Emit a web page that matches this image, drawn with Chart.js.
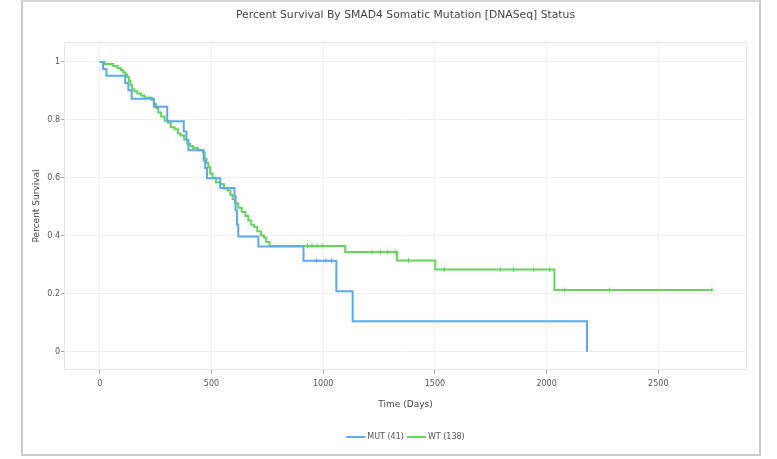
<!DOCTYPE html>
<html>
<head>
<meta charset="utf-8">
<script src="https://cdn.jsdelivr.net/npm/chart.js@4.4.1/dist/chart.umd.min.js"></script>
<style>
  html, body { margin: 0; padding: 0; background: #fff; }
  #card { position: absolute; left: 21px; top: 0px; width: 740px; height: 456px; border: 2px solid #c9c9c9; border-top-color:#d6d6d6; box-sizing: border-box; }
  #c { position: absolute; left: 0; top: 0; }
</style>
</head>
<body>
<div id="card"></div>
<canvas id="c" width="777" height="459"></canvas>
<script>
const chartTitle = "Percent Survival By SMAD4 Somatic Mutation [DNASeq] Status";
const xTitle = "Time (Days)";
const yTitle = "Percent Survival";
const seriesLabels = ["MUT (41)", "WT (138)"];
const seriesColors = ["#5ca9ee", "#66d35c"];

const mutDays = [0, 15, 30, 114, 128, 143, 243, 302, 376, 388, 397, 465, 472, 480, 539, 603, 608, 614, 620, 710, 912, 1059, 1132, 2181];
const mutSurv = [1, 0.976, 0.952, 0.927, 0.902, 0.873, 0.845, 0.795, 0.76, 0.731, 0.695, 0.66, 0.634, 0.599, 0.565, 0.537, 0.488, 0.439, 0.398, 0.363, 0.314, 0.209, 0.105, 0];
const mutCensorDays = [970, 1012, 1037];
const mutCensorSurv = [0.314, 0.314, 0.314];

const wtDays = [0, 22, 60, 80, 95, 105, 115, 122, 130, 138, 145, 155, 168, 185, 200, 232, 242, 252, 262, 275, 290, 305, 318, 335, 350, 362, 378, 392, 405, 418, 440, 462, 470, 478, 486, 494, 505, 520, 540, 556, 572, 585, 595, 605, 620, 636, 652, 665, 678, 690, 705, 722, 735, 745, 760, 1099, 1330, 1502, 2035, 2740];
const wtSurv = [1.000, 0.993, 0.986, 0.978, 0.971, 0.964, 0.957, 0.949, 0.935, 0.920, 0.906, 0.899, 0.891, 0.884, 0.877, 0.870, 0.855, 0.841, 0.826, 0.812, 0.797, 0.790, 0.775, 0.768, 0.753, 0.746, 0.732, 0.717, 0.710, 0.703, 0.695, 0.688, 0.666, 0.651, 0.637, 0.615, 0.600, 0.585, 0.578, 0.563, 0.556, 0.541, 0.527, 0.512, 0.497, 0.482, 0.468, 0.453, 0.438, 0.431, 0.416, 0.401, 0.394, 0.379, 0.365, 0.344, 0.315, 0.284, 0.213, 0.213];
const wtCensorDays = [930, 950, 972, 995, 1218, 1256, 1288, 1323, 1382, 1542, 1793, 1852, 1942, 2013, 2081, 2281, 2740];
const wtCensorSurv = [0.365, 0.365, 0.365, 0.365, 0.344, 0.344, 0.344, 0.344, 0.315, 0.284, 0.284, 0.284, 0.284, 0.284, 0.213, 0.213, 0.213];

const xTicks = [0, 500, 1000, 1500, 2000, 2500];
const yTicks = [0, 0.2, 0.4, 0.6, 0.8, 1];

const toPts = (xs, ys) => xs.map((x, i) => ({ x: x, y: ys[i] }));
const FONT = "DejaVu Sans";

const frameAndLegend = {
  id: 'frameAndLegend',
  beforeDatasetsDraw(chart) {
    const { ctx, chartArea: a } = chart;
    ctx.save();
    ctx.strokeStyle = '#e6e6e6';
    ctx.lineWidth = 1;
    ctx.strokeRect(a.left + 0.5, a.top + 0.5, a.right - a.left - 1, a.bottom - a.top - 1);
    ctx.restore();
  },
  afterDraw(chart) {
    const { ctx, chartArea: a } = chart;
    ctx.save();
    ctx.font = "8px '" + FONT + "'";
    ctx.textBaseline = 'middle';
    const lineLen = 19, gap = 2, itemGap = 3;
    const widths = seriesLabels.map(t => lineLen + gap + ctx.measureText(t).width);
    const total = widths.reduce((s, w) => s + w, 0) + itemGap * (widths.length - 1);
    let x = (a.left + a.right) / 2 - total / 2;
    const y = 437;
    seriesLabels.forEach((t, i) => {
      ctx.strokeStyle = seriesColors[i];
      ctx.lineWidth = 2;
      ctx.beginPath();
      ctx.moveTo(x, y);
      ctx.lineTo(x + lineLen, y);
      ctx.stroke();
      ctx.fillStyle = '#555';
      ctx.fillText(t, x + lineLen + gap, y);
      x += widths[i] + itemGap;
    });
    ctx.restore();
  }
};

new Chart(document.getElementById('c'), {
  type: 'line',
  data: {
    datasets: [
      { label: seriesLabels[0], data: toPts(mutDays, mutSurv), stepped: true, borderColor: seriesColors[0], borderWidth: 2, pointRadius: 0, fill: false },
      { label: seriesLabels[1], data: toPts(wtDays, wtSurv), stepped: true, borderColor: seriesColors[1], borderWidth: 2, pointRadius: 0, fill: false },
      { label: 'mutCensor', data: toPts(mutCensorDays, mutCensorSurv), showLine: false, pointStyle: 'cross', pointRadius: 2.5, borderColor: seriesColors[0], backgroundColor: seriesColors[0], pointBorderWidth: 1 },
      { label: 'wtCensor', data: toPts(wtCensorDays, wtCensorSurv), showLine: false, pointStyle: 'cross', pointRadius: 2.5, borderColor: seriesColors[1], backgroundColor: seriesColors[1], pointBorderWidth: 1 }
    ]
  },
  options: {
    responsive: false,
    animation: false,
    devicePixelRatio: 1,
    layout: { padding: { left: 0, right: 30, top: 0, bottom: 0 } },
    plugins: {
      legend: { display: false },
      tooltip: { enabled: false },
      title: {
        display: true, fullSize: false, text: chartTitle, color: '#444',
        font: { family: FONT, size: 10.8, weight: 'normal' },
        padding: { top: 9, bottom: 20 }
      }
    },
    scales: {
      x: {
        type: 'linear', min: -160, max: 2897,
        afterFit(s) { s.height = 89; },
        afterBuildTicks(s) { s.ticks = xTicks.map(v => ({ value: v })); },
        ticks: { color: '#555', font: { family: FONT, size: 8 }, padding: 5, maxRotation: 0, autoSkip: false, callback: v => String(v) },
        grid: { color: '#efefef', tickColor: '#aaa', tickLength: 4, drawTicks: true },
        border: { display: false },
        title: { display: true, text: xTitle, color: '#444', font: { family: FONT, size: 9 }, padding: { top: 0, bottom: 48.5 } }
      },
      y: {
        type: 'linear', min: -0.063, max: 1.069,
        afterFit(s) { s.width = 64; },
        afterBuildTicks(s) { s.ticks = yTicks.map(v => ({ value: v })); },
        ticks: { color: '#555', font: { family: FONT, size: 8 }, padding: 1, autoSkip: false, callback: v => String(v) },
        grid: { color: '#efefef', tickColor: '#aaa', tickLength: 3, drawTicks: true },
        border: { display: false },
        title: { display: true, text: yTitle, color: '#444', font: { family: FONT, size: 9 }, padding: { top: 31.5, bottom: 0 } }
      }
    }
  },
  plugins: [frameAndLegend]
});
</script>
</body>
</html>
